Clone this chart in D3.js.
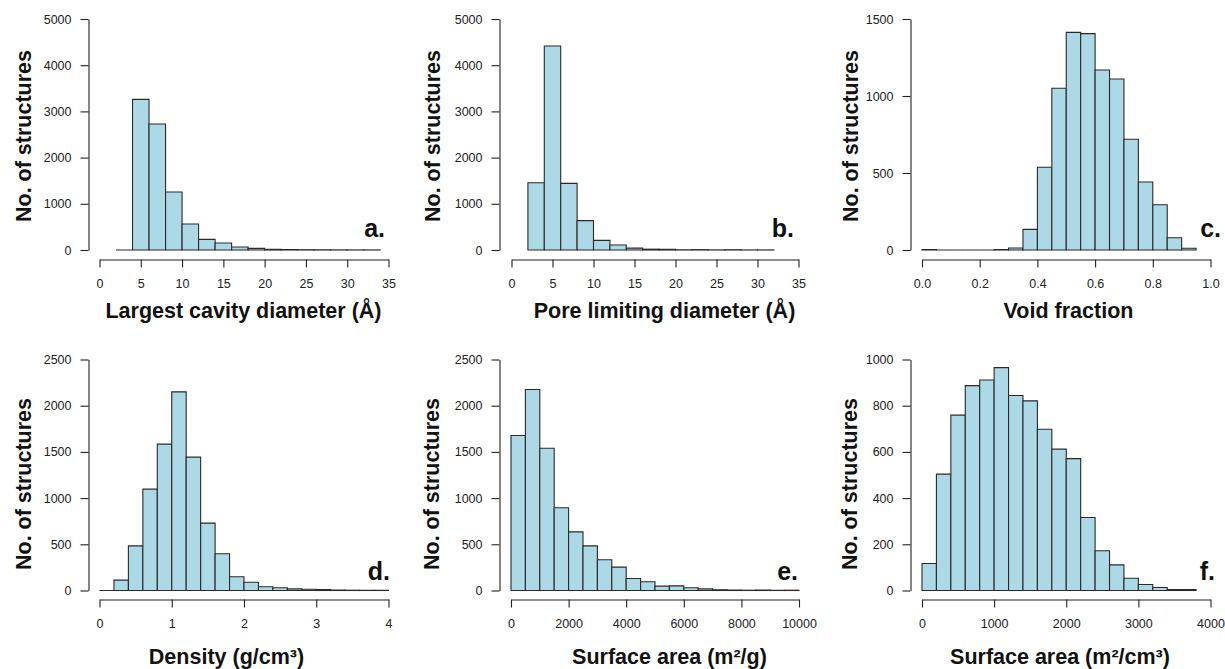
<!DOCTYPE html>
<html>
<head>
<meta charset="utf-8">
<script src="https://cdn.jsdelivr.net/npm/d3@7"></script>
<style>
  html, body { margin: 0; padding: 0; background: #fff; }
  svg { display: block; }
  text { font-family: "Liberation Sans", Arial, sans-serif; }
</style>
</head>
<body>
<svg id="chart" width="1225" height="669"></svg>
<script>
// ---------- DATA ----------
// a. Largest cavity diameter: bins of width 2 starting at 2
const lcdStart = 2, lcdWidth = 2;
const lcdCounts = [0, 3260, 2727, 1255, 563, 231, 152, 65, 36, 15, 10, 6, 5, 3, 2, 2];
const lcdXTicks = [0, 5, 10, 15, 20, 25, 30, 35];
const lcdYTicks = [0, 1000, 2000, 3000, 4000, 5000];

// b. Pore limiting diameter: bins of width 2 starting at 2
const pldStart = 2, pldWidth = 2;
const pldCounts = [1457, 4416, 1443, 635, 209, 108, 40, 18, 15, 5, 8, 3, 6, 2, 2];
const pldXTicks = [0, 5, 10, 15, 20, 25, 30, 35];
const pldYTicks = [0, 1000, 2000, 3000, 4000, 5000];

// c. Void fraction: bins of width 0.05 starting at 0
const vfStart = 0, vfWidth = 0.05;
const vfCounts = [3, 0, 0, 0, 0, 3, 13, 134, 537, 1050, 1413, 1405, 1169, 1110, 719, 442, 294, 80, 11];
const vfXTicks = [0, 0.2, 0.4, 0.6, 0.8, 1.0];
const vfYTicks = [0, 500, 1000, 1500];

// d. Density: bins of width 0.2 starting at 0
const denStart = 0, denWidth = 0.2;
const denCounts = [0, 112, 483, 1097, 1584, 2150, 1443, 729, 397, 148, 90, 40, 29, 18, 14, 10, 5, 3, 2, 2];
const denXTicks = [0, 1, 2, 3, 4];
const denYTicks = [0, 500, 1000, 1500, 2000, 2500];

// e. Gravimetric surface area: bins of width 500 starting at 0
const sagStart = 0, sagWidth = 500;
const sagCounts = [1677, 2175, 1540, 895, 635, 483, 332, 253, 130, 94, 47, 50, 29, 18, 8, 5, 3, 5, 2, 3];
const sagXTicks = [0, 2000, 4000, 6000, 8000, 10000];
const sagYTicks = [0, 500, 1000, 1500, 2000, 2500];

// f. Volumetric surface area: bins of width 200 starting at 0
const savStart = 0, savWidth = 200;
const savCounts = [117, 504, 759, 887, 911, 965, 844, 821, 698, 612, 571, 316, 172, 111, 53, 26, 13, 4, 4];
const savXTicks = [0, 1000, 2000, 3000, 4000];
const savYTicks = [0, 200, 400, 600, 800, 1000];

const xTitles = ["Largest cavity diameter (Å)", "Pore limiting diameter (Å)", "Void fraction",
                 "Density (g/cm³)", "Surface area (m²/g)", "Surface area (m²/cm³)"];
const yTitle = "No. of structures";
const panelTags = ["a.", "b.", "c.", "d.", "e.", "f."];

// ---------- LAYOUT ----------
const panels = [
  { start: lcdStart, width: lcdWidth, counts: lcdCounts, xt: lcdXTicks, yt: lcdYTicks, fmt: d3.format("d"),
    yAxisX: 88.5, x0: 99.5, x1: 388.5, yTop: 19, yBot: 250, xAxisY: 259.5,
    xtCx: 243.5, xtCy: 310, ytCx: 23.5, ytCy: 136, tagX: 385, tagY: 237 },
  { start: pldStart, width: pldWidth, counts: pldCounts, xt: pldXTicks, yt: pldYTicks, fmt: d3.format("d"),
    yAxisX: 499.5, x0: 511.5, x1: 798.5, yTop: 19, yBot: 250, xAxisY: 259.5,
    xtCx: 664.5, xtCy: 310, ytCx: 432, ytCy: 136, tagX: 794, tagY: 237 },
  { start: vfStart, width: vfWidth, counts: vfCounts, xt: vfXTicks, yt: vfYTicks, fmt: d3.format(".1f"),
    yAxisX: 910.5, x0: 922, x1: 1210.5, yTop: 19, yBot: 250, xAxisY: 259.5,
    xtCx: 1068.5, xtCy: 310, ytCx: 850, ytCy: 136, tagX: 1221, tagY: 237 },
  { start: denStart, width: denWidth, counts: denCounts, xt: denXTicks, yt: denYTicks, fmt: d3.format("d"),
    yAxisX: 88.5, x0: 99.5, x1: 388.5, yTop: 359.5, yBot: 590.5, xAxisY: 599.5,
    xtCx: 226.5, xtCy: 656, ytCx: 23, ytCy: 484, tagX: 390, tagY: 580 },
  { start: sagStart, width: sagWidth, counts: sagCounts, xt: sagXTicks, yt: sagYTicks, fmt: d3.format("d"),
    yAxisX: 499.5, x0: 511, x1: 799, yTop: 359.5, yBot: 590.5, xAxisY: 599.5,
    xtCx: 669.5, xtCy: 656, ytCx: 431.5, ytCy: 484, tagX: 798, tagY: 580 },
  { start: savStart, width: savWidth, counts: savCounts, xt: savXTicks, yt: savYTicks, fmt: d3.format("d"),
    yAxisX: 910.5, x0: 922, x1: 1210.5, yTop: 359.5, yBot: 590.5, xAxisY: 599.5,
    xtCx: 1060, xtCy: 656, ytCx: 849.5, ytCy: 484, tagX: 1215, tagY: 580 }
];

const svg = d3.select("#chart");
const axisColor = "#222";

panels.forEach((p, i) => {
  const g = svg.append("g");
  const x = d3.scaleLinear().domain([p.xt[0], p.xt[p.xt.length - 1]]).range([p.x0, p.x1]);
  const y = d3.scaleLinear().domain([p.yt[0], p.yt[p.yt.length - 1]]).range([p.yBot, p.yTop]);

  // bars (drawn as closed paths so empty bins still show as a baseline segment)
  const bins = p.counts.map((c, k) => ({ lo: p.start + k * p.width, hi: p.start + (k + 1) * p.width, c }));
  g.append("g").selectAll("path").data(bins).join("path")
    .attr("d", d => {
      const xl = x(d.lo), xr = x(d.hi), y0 = y(0), y1 = y(d.c);
      return `M${xl},${y0}V${y1}H${xr}V${y0}Z`;
    })
    .attr("fill", "#ADD8E6")
    .attr("stroke", "#2a2a2a")
    .attr("stroke-width", 1.1)
    .attr("stroke-linejoin", "miter");

  // y axis
  const ya = g.append("g").attr("transform", `translate(${p.yAxisX},0)`)
    .call(d3.axisLeft(y).tickValues(p.yt).tickFormat(d3.format("d")).tickSize(8).tickSizeOuter(0).tickPadding(9));
  // x axis
  const xa = g.append("g").attr("transform", `translate(0,${p.xAxisY})`)
    .call(d3.axisBottom(x).tickValues(p.xt).tickFormat(p.fmt).tickSize(8).tickSizeOuter(0).tickPadding(12));
  [ya, xa].forEach(a => {
    a.select(".domain").attr("stroke", axisColor).attr("stroke-width", 1.1);
    a.selectAll(".tick line").attr("stroke", axisColor).attr("stroke-width", 1.1);
    a.selectAll(".tick text").attr("fill", "#222").style("font-size", "12.5px")
      .style("font-family", "'Liberation Sans', Arial, sans-serif");
  });

  // x title
  g.append("text").attr("x", p.xtCx).attr("y", p.xtCy).attr("dy", "0.36em")
    .attr("text-anchor", "middle").style("font-weight", "bold").style("font-size", "21.5px")
    .attr("fill", "#111").text(xTitles[i]);
  // y title
  g.append("text").attr("transform", `translate(${p.ytCx},${p.ytCy}) rotate(-90)`)
    .attr("dy", "0.36em").attr("text-anchor", "middle")
    .style("font-weight", "bold").style("font-size", "21.5px").attr("fill", "#111").text(yTitle);
  // panel tag
  g.append("text").attr("x", p.tagX).attr("y", p.tagY).attr("text-anchor", "end")
    .style("font-weight", "bold").style("font-size", "25px").attr("fill", "#111").text(panelTags[i]);
});
</script>
</body>
</html>
